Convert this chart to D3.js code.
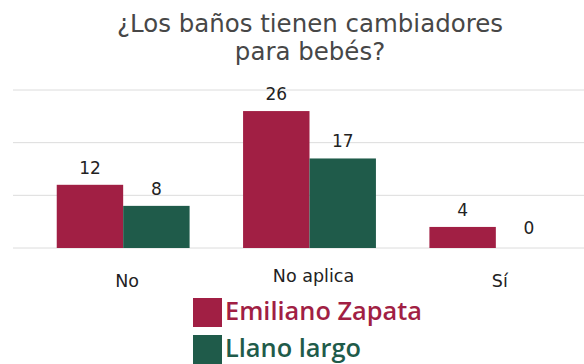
<!DOCTYPE html>
<html>
<head>
<meta charset="utf-8">
<script src="https://cdn.jsdelivr.net/npm/d3@7"></script>
<style>
  html, body { margin: 0; padding: 0; background: #fff; }
  svg { display: block; }
</style>
</head>
<body>
<svg id="chart" width="584" height="364"></svg>
<script>
const titleLines = ["¿Los baños tienen cambiadores", "para bebés?"];
const categories = ["No", "No aplica", "Sí"];
const seriesNames = ["Emiliano Zapata", "Llano largo"];
const emilianoZapata = [12, 26, 4];
const llanoLargo = [8, 17, 0];
const yTicks = [0, 10, 20, 30];
const colors = ["#a11f44", "#1f5b4a"];

const seriesValues = [emilianoZapata, llanoLargo];
const data = categories.map((c, i) => ({
  cat: c,
  vals: seriesNames.map((s, j) => ({ series: s, idx: j, value: seriesValues[j][i] }))
}));

const svg = d3.select("#chart");
const FONT = "'DejaVu Sans', sans-serif";
const LEGFONT = "'Open Sans', 'DejaVu Sans', sans-serif";

function fitWidth(sel, target) {
  const w = sel.node().getComputedTextLength();
  const fs = parseFloat(sel.attr("font-size"));
  const nfs = +(fs * target / w).toFixed(2);
  sel.attr("font-size", nfs);
  return nfs;
}

// Title
const titleY = [32, 60];
let titleSize = 20;
titleLines.forEach((t, i) => {
  const tx = svg.append("text")
    .attr("x", 310).attr("y", titleY[i])
    .attr("text-anchor", "middle")
    .attr("font-family", FONT).attr("font-size", titleSize)
    .attr("fill", "#474747")
    .text(t);
  if (i === 0) titleSize = fitWidth(tx, 386);
});

const y = d3.scaleLinear().domain([0, 30]).range([248, 90]);
const x0 = d3.scaleBand().domain(categories).range([30, 589]).paddingInner(0.287).paddingOuter(0.1435);
const x1 = d3.scaleBand().domain(seriesNames).range([0, x0.bandwidth()]);

// Gridlines
svg.append("g").selectAll("line").data(yTicks).join("line")
  .attr("x1", 13).attr("x2", 584)
  .attr("y1", d => y(d)).attr("y2", d => y(d))
  .attr("stroke", "#dcdcdc").attr("stroke-width", 1);

// Bars
const groups = svg.append("g").selectAll("g").data(data).join("g")
  .attr("transform", d => `translate(${x0(d.cat)},0)`);

groups.selectAll("rect").data(d => d.vals).join("rect")
  .attr("x", d => x1(d.series))
  .attr("y", d => y(d.value))
  .attr("width", x1.bandwidth())
  .attr("height", d => y(0) - y(d.value))
  .attr("fill", d => colors[d.idx]);

groups.selectAll("text").data(d => d.vals).join("text")
  .attr("x", d => x1(d.series) + x1.bandwidth() / 2)
  .attr("y", d => y(d.value) - (d.value === 0 ? 14 : 11))
  .attr("text-anchor", "middle")
  .attr("font-family", FONT).attr("font-size", 17)
  .attr("fill", "#222")
  .text(d => d.value);

// Category labels
const catY = { "No": 287, "No aplica": 282, "Sí": 287 };
svg.append("g").selectAll("text").data(categories).join("text")
  .attr("x", d => x0(d) + x0.bandwidth() / 2 + 4)
  .attr("y", d => catY[d])
  .attr("text-anchor", "middle")
  .attr("font-family", FONT).attr("font-size", 17.5)
  .attr("fill", "#222")
  .text(d => d);

// Legend
const legY = [298, 335];
let legSize = 22;
seriesNames.forEach((s, i) => {
  svg.append("rect")
    .attr("x", 193).attr("y", legY[i])
    .attr("width", 29).attr("height", 29)
    .attr("fill", colors[i]);
  const t = svg.append("text")
    .attr("x", 225).attr("y", legY[i] + 22)
    .attr("font-family", LEGFONT).attr("font-size", legSize)
    .attr("font-weight", 600)
    .attr("fill", colors[i])
    .text(s);
  if (i === 0) legSize = fitWidth(t, 197);
});
</script>
</body>
</html>
